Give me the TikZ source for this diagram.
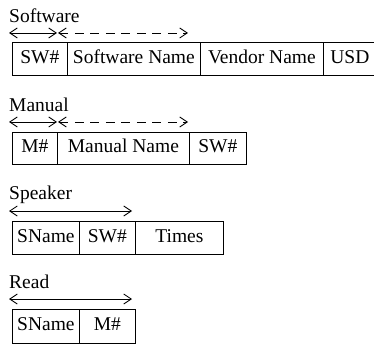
\documentclass[tikz,border=0pt]{standalone}
\usepackage{fontspec}
\setmainfont{Liberation Serif}
\usetikzlibrary{arrows.meta}

\begin{document}
\begin{tikzpicture}[x=1pt, y=-1pt,
    every node/.style={inner sep=0pt, font=\fontsize{19.5}{22}\selectfont},
    cell/.style={draw, line width=0.8pt, rectangle, anchor=north west, minimum height=33pt, text height=13pt, text depth=4pt},
    title/.style={anchor=base west},
    keyline/.style={line width=0.9pt, {Straight Barb[length=7.5pt,width=10pt]}-{Straight Barb[length=7.5pt,width=10pt]}}]
      \clip (0, 0) rectangle (374, 347);

      % Software
      \node[title] (t1) at (9, 23) {Software};
      \node[cell, minimum width=55pt] (s1) at (12, 42) {SW\#};
      \node[cell, minimum width=133pt] (s2) at (67, 42) {Software Name};
      \node[cell, minimum width=123pt] (s3) at (200, 42) {Vendor Name};
      \node[cell, minimum width=53pt] (s4) at (323, 42) {USD};
      \coordinate (s1a) at (9, 33);
      \coordinate (s1b) at (57, 33);
      \coordinate (s2a) at (58, 33);
      \coordinate (s2b) at (188, 33);
      \draw[keyline] (s1a) -- (s1b);
      \draw[keyline, dash pattern=on 9pt off 6.5pt] (s2a) -- (s2b);

      % Manual
      \node[title] (t2) at (9, 112) {Manual};
      \node[cell, minimum width=45pt, minimum height=32pt] (m1) at (12, 132) {M\#};
      \node[cell, minimum width=132pt, minimum height=32pt] (m2) at (57, 132) {Manual Name};
      \node[cell, minimum width=57pt, minimum height=32pt] (m3) at (189, 132) {SW\#};
      \coordinate (m1a) at (9, 122);
      \coordinate (m1b) at (57, 122);
      \coordinate (m2a) at (58, 122);
      \coordinate (m2b) at (188, 122);
      \draw[keyline] (m1a) -- (m1b);
      \draw[keyline, dash pattern=on 9pt off 6.5pt] (m2a) -- (m2b);

      % Speaker
      \node[title] (t3) at (9, 200) {Speaker};
      \node[cell, minimum width=67pt] (p1) at (12, 221) {SName};
      \node[cell, minimum width=56pt] (p2) at (79, 221) {SW\#};
      \node[cell, minimum width=88pt] (p3) at (135, 221) {Times};
      \coordinate (p1a) at (9, 211);
      \coordinate (p1b) at (132, 211);
      \draw[keyline] (p1a) -- (p1b);

      % Read
      \node[title] (t4) at (9, 288) {Read};
      \node[cell, minimum width=67pt, minimum height=34pt] (r1) at (12, 309) {SName};
      \node[cell, minimum width=56pt, minimum height=34pt] (r2) at (79, 309) {M\#};
      \coordinate (r1a) at (9, 299);
      \coordinate (r1b) at (132, 299);
      \draw[keyline] (r1a) -- (r1b);
\end{tikzpicture}
\end{document}
